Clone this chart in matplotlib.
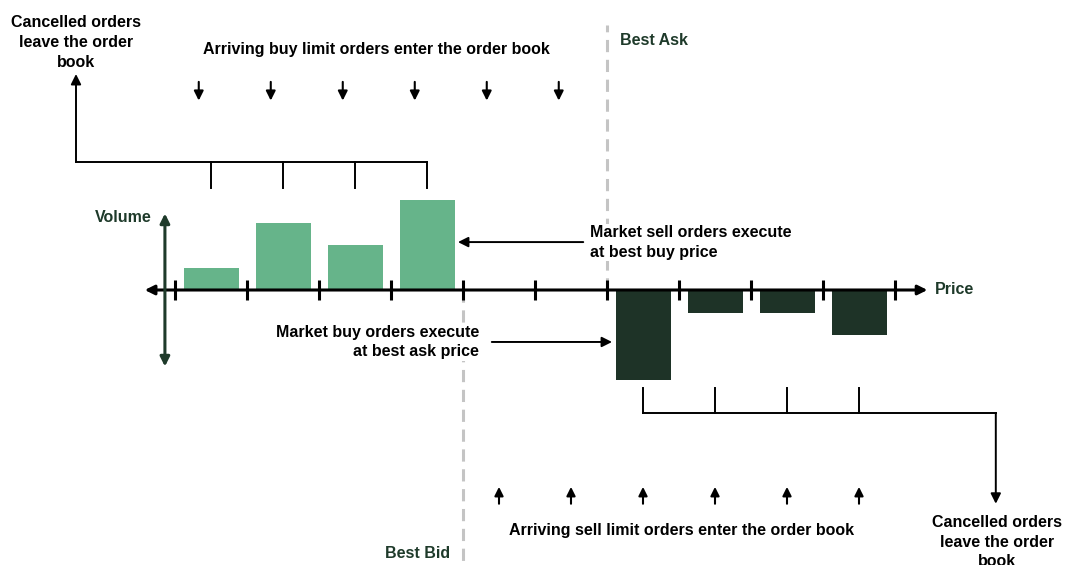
import matplotlib.pyplot as plt

# order book schematic data (volumes in arbitrary units)
buy_pos = [0.5, 1.5, 2.5, 3.5]
buy_vol = [1, 3, 2, 4]
sell_pos = [6.5, 7.5, 8.5, 9.5]
sell_vol = [4, 1, 1, 2]
price_ticks = list(range(11))
buy_arrivals = [0.33, 1.33, 2.33, 3.33, 4.33, 5.33]
sell_arrivals = [4.5, 5.5, 6.5, 7.5, 8.5, 9.5]
best_bid = 4
best_ask = 6

light_green = '#66b48a'
dark_green = '#1e3327'
label_green = '#1e3a2a'
gray = '#c4c4c4'

plt.rcParams['font.family'] = ['Liberation Sans', 'DejaVu Sans']
plt.rcParams['font.weight'] = 'bold'
FS = 11.5
LS = 1.38

fig = plt.figure(figsize=(10.66, 5.65), dpi=100)
ax = fig.add_axes([0, 0, 1, 1])
ax.set_xlim(-175 / 72, 891 / 72)
ax.set_ylim(-275 / 22.5, 290 / 22.5)
ax.axis('off')

# best bid / best ask dashed lines
ax.plot([best_ask, best_ask], [0, 11.8], color=gray, lw=2.2, ls=(0, (4, 2.5)), zorder=1)
ax.plot([best_bid, best_bid], [0, -12.2], color=gray, lw=2.2, ls=(0, (4, 2.5)), zorder=1)

# bars
ax.bar(buy_pos, buy_vol, width=55 / 72, color=light_green, zorder=2)
ax.bar(sell_pos, [-v for v in sell_vol], width=55 / 72, color=dark_green, zorder=2)

# price axis
ax.annotate('', xy=(10.45, 0), xytext=(-0.42, 0),
            arrowprops=dict(arrowstyle='<|-|>', color='black', lw=2.2,
                            mutation_scale=14, shrinkA=0, shrinkB=0), zorder=3)
for t in price_ticks:
    ax.plot([t, t], [-0.45, 0.45], color='black', lw=2.2, zorder=3, solid_capstyle='butt')

# volume axis
ax.annotate('', xy=(-0.14, 3.4), xytext=(-0.14, -3.4),
            arrowprops=dict(arrowstyle='<|-|>', color=label_green, lw=2.2,
                            mutation_scale=14, shrinkA=0, shrinkB=0), zorder=3)

# top bracket: cancelled buy orders
top_y, top_tick = 5.69, 4.53
ax.plot([-1.375, buy_pos[-1]], [top_y, top_y], color='black', lw=1.4)
for p in buy_pos:
    ax.plot([p, p], [top_y, top_tick], color='black', lw=1.4)
ax.annotate('', xy=(-1.375, 9.6), xytext=(-1.375, top_y),
            arrowprops=dict(arrowstyle='-|>', color='black', lw=1.4,
                            mutation_scale=15, shrinkA=0, shrinkB=0))

# bottom bracket: cancelled sell orders
bot_y, bot_tick = -5.47, -4.36
ax.plot([sell_pos[0], 11.4], [bot_y, bot_y], color='black', lw=1.4)
for p in sell_pos:
    ax.plot([p, p], [bot_y, bot_tick], color='black', lw=1.4)
ax.annotate('', xy=(11.4, -9.5), xytext=(11.4, bot_y),
            arrowprops=dict(arrowstyle='-|>', color='black', lw=1.4,
                            mutation_scale=15, shrinkA=0, shrinkB=0))

# arriving limit orders
for x in buy_arrivals:
    ax.annotate('', xy=(x, 8.42), xytext=(x, 9.25),
                arrowprops=dict(arrowstyle='-|>', color='black', lw=1.5,
                                mutation_scale=14, shrinkA=0, shrinkB=0))
for x in sell_arrivals:
    ax.annotate('', xy=(x, -8.75), xytext=(x, -9.5),
                arrowprops=dict(arrowstyle='-|>', color='black', lw=1.5,
                                mutation_scale=13, shrinkA=0, shrinkB=0))

# market order arrows
ax.annotate('', xy=(3.93, 2.13), xytext=(5.67, 2.13),
            arrowprops=dict(arrowstyle='-|>', color='black', lw=1.4,
                            mutation_scale=15, shrinkA=0, shrinkB=0))
ax.annotate('', xy=(6.07, -2.31), xytext=(4.4, -2.31),
            arrowprops=dict(arrowstyle='-|>', color='black', lw=1.4,
                            mutation_scale=15, shrinkA=0, shrinkB=0))

# texts
ax.text(-1.375, 11.0, 'Cancelled orders\nleave the order\nbook', ha='center', va='center',
        fontsize=FS, linespacing=LS)
ax.text(2.8, 10.67, 'Arriving buy limit orders enter the order book', ha='center', va='center',
        fontsize=FS)
ax.text(6.18, 11.1, 'Best Ask', ha='left', va='center', fontsize=FS, color=label_green)
ax.text(-0.32, 3.2, 'Volume', ha='right', va='center', fontsize=FS, color=label_green)
ax.text(10.56, 0, 'Price', ha='left', va='center', fontsize=FS, color=label_green)
ax.text(5.76, 2.1, 'Market sell orders execute\nat best buy price', ha='left', va='center',
        fontsize=FS, linespacing=LS, bbox=dict(fc='white', ec='none', pad=1), zorder=4)
ax.text(4.22, -2.31, 'Market buy orders execute\nat best ask price', ha='right', va='center',
        multialignment='right', fontsize=FS, linespacing=LS,
        bbox=dict(fc='white', ec='none', pad=1), zorder=4)
ax.text(3.82, -11.69, 'Best Bid', ha='right', va='center', fontsize=FS, color=label_green)
ax.text(7.04, -10.71, 'Arriving sell limit orders enter the order book', ha='center', va='center',
        fontsize=FS)
ax.text(11.42, -10.0, 'Cancelled orders\nleave the order\nbook', ha='center', va='top',
        fontsize=FS, linespacing=LS)

fig.savefig('out.png', dpi=100)
